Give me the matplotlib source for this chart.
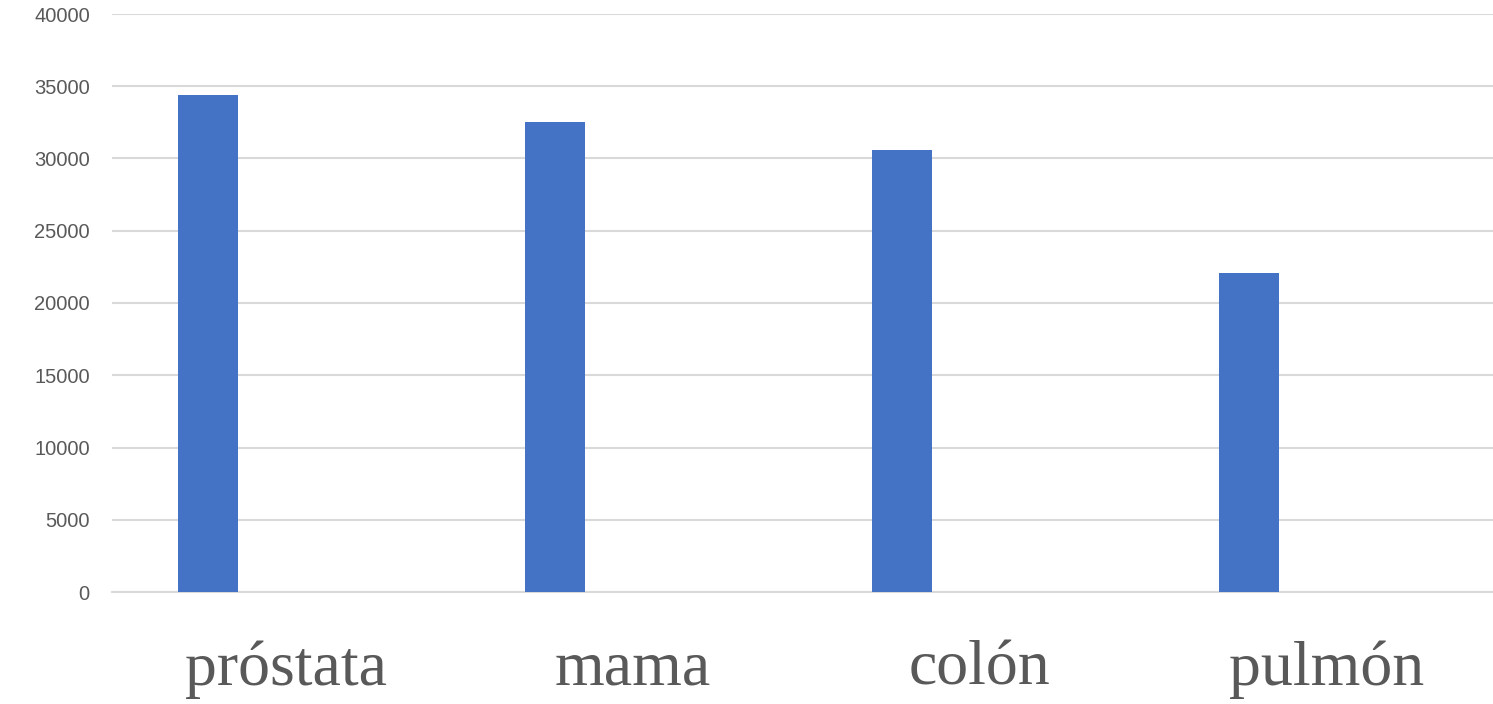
import numpy as np
import matplotlib
matplotlib.use("Agg")
import matplotlib.pyplot as plt

categories = ["próstata", "mama", "colón", "pulmón"]
cases = [34400, 32500, 30600, 22100]
y_ticks = [0, 5000, 10000, 15000, 20000, 25000, 30000, 35000, 40000]

BAR_COLOR = "#4472C4"
TEXT_COLOR = "#595959"
GRID_COLOR = "#D9D9D9"

fig = plt.figure(figsize=(14.93, 7.04), dpi=100)
ax = fig.add_axes([112 / 1493, 112 / 704, 1388 / 1493, 578 / 704])

x = np.arange(len(categories))
ax.bar(x - 0.223, cases, width=0.173, color=BAR_COLOR, zorder=3)

ax.set_xlim(-0.5, len(categories) - 0.5)
ax.set_ylim(0, 40000)
ax.set_yticks(y_ticks)
ax.set_yticklabels([str(t) for t in y_ticks], fontsize=14.5,
                   color=TEXT_COLOR, family="Liberation Sans")
ax.yaxis.grid(True, color=GRID_COLOR, linewidth=1.5, zorder=0)
ax.tick_params(axis="y", length=0, pad=16)

ax.set_xticks(x)
ax.set_xticklabels(categories, fontsize=46, color=TEXT_COLOR,
                   family="Liberation Serif")
ax.tick_params(axis="x", length=0, pad=35)

for side in ["top", "right", "left"]:
    ax.spines[side].set_visible(False)
ax.spines["bottom"].set_color(GRID_COLOR)
ax.spines["bottom"].set_linewidth(1.5)

fig.savefig("out.png", dpi=100)
